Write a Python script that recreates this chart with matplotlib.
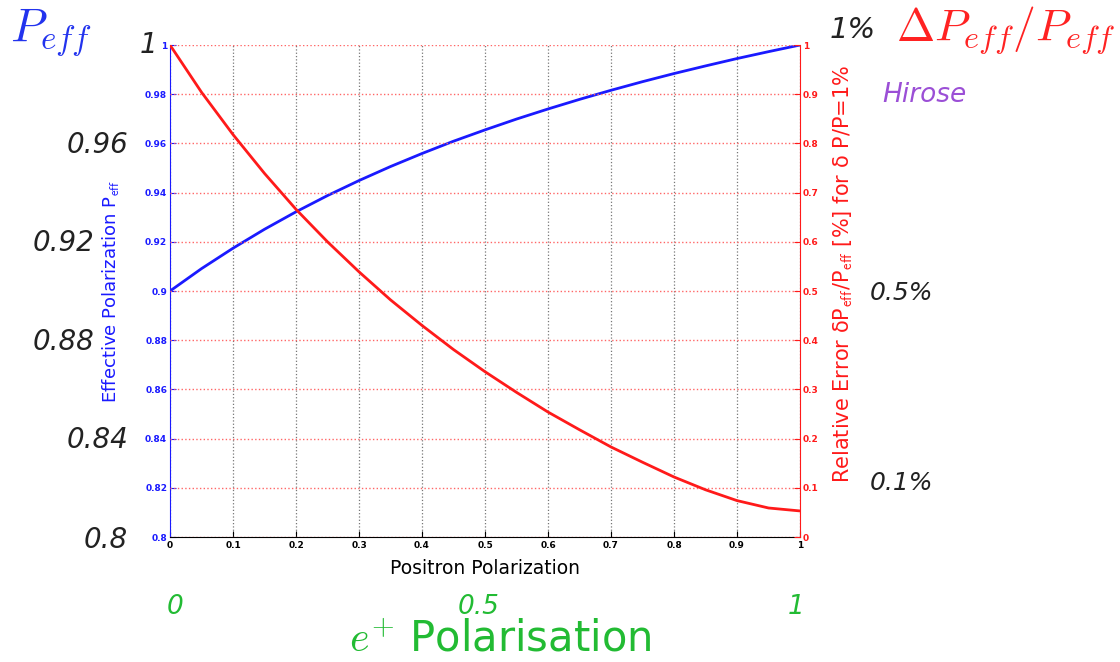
import matplotlib.pyplot as plt

plt.rcParams['mathtext.fontset'] = 'cm'

# positron polarization and the two curves
pos_pol = [0.0, 0.05, 0.1, 0.15, 0.2, 0.25, 0.3, 0.35, 0.4, 0.45, 0.5,
           0.55, 0.6, 0.65, 0.7, 0.75, 0.8, 0.85, 0.9, 0.95, 1.0]
p_eff = [0.900, 0.9091, 0.9174, 0.9251, 0.9322, 0.9388, 0.9449, 0.9506, 0.9559, 0.9609, 0.9655,
         0.9699, 0.9740, 0.9779, 0.9816, 0.9851, 0.9884, 0.9915, 0.9945, 0.9973, 1.000]
rel_err = [1.000, 0.904, 0.818, 0.739, 0.666, 0.600, 0.539, 0.482, 0.430, 0.381, 0.336,
           0.294, 0.254, 0.218, 0.183, 0.152, 0.122, 0.096, 0.074, 0.059, 0.053]

x_ticks = [0, 0.1, 0.2, 0.3, 0.4, 0.5, 0.6, 0.7, 0.8, 0.9, 1]
left_ticks = [0.8, 0.82, 0.84, 0.86, 0.88, 0.9, 0.92, 0.94, 0.96, 0.98, 1]
right_ticks = [0, 0.1, 0.2, 0.3, 0.4, 0.5, 0.6, 0.7, 0.8, 0.9, 1]

blue = '#1a1aff'
red = '#ff1a1a'

fig = plt.figure(figsize=(11.2, 6.62), dpi=100)
ax = fig.add_axes([0.1518, 0.1888, 0.5625, 0.7432])
ax2 = ax.twinx()

ax.plot(pos_pol, p_eff, color=blue, lw=2)
ax2.plot(pos_pol, rel_err, color=red, lw=2)

ax.set_xlim(0, 1)
ax.set_ylim(0.8, 1)
ax2.set_ylim(0, 1)
ax.set_xticks(x_ticks)
ax.set_xticklabels([('%g' % v) for v in x_ticks], fontsize=6.5, fontweight='semibold')
ax.set_yticks(left_ticks)
ax.set_yticklabels([('%g' % v) for v in left_ticks], fontsize=6.5, color=blue, fontweight='semibold')
ax2.set_yticks(right_ticks)
ax2.set_yticklabels([('%g' % v) for v in right_ticks], fontsize=6.5, color=red, fontweight='semibold')

ax.tick_params(axis='x', direction='in', length=4, pad=3)
ax.tick_params(axis='y', direction='in', length=4, colors=blue, pad=2)
ax2.tick_params(axis='y', direction='in', length=4, colors=red, pad=2)

for a in (ax, ax2):
    a.spines['top'].set_visible(False)
ax.spines['left'].set_color(blue)
ax.spines['right'].set_visible(False)
ax2.spines['left'].set_visible(False)
ax2.spines['right'].set_color(red)
ax2.spines['bottom'].set_visible(False)

ax.grid(axis='x', color='#777777', linestyle=':', lw=0.9)
ax2.grid(axis='y', color='#ff6666', linestyle=':', lw=1.0)

ax.set_xlabel('Positron Polarization', fontsize=13.5)
ax.xaxis.set_label_coords(0.5, -0.045)
ax.set_ylabel('Effective Polarization P$_{\\mathsf{eff}}$', fontsize=13, color=blue)
ax.yaxis.set_label_coords(-0.077, 0.5)
ax2.set_ylabel('Relative Error \u03b4P$_{\\mathsf{eff}}$/P$_{\\mathsf{eff}}$ [%] for \u03b4 P/P=1%',
               fontsize=15, color=red)
ax2.yaxis.set_label_coords(1.05, 0.535)

# big overlay annotations
W, H = 1120, 662
def ftext(x, y, s, **kw):
    fig.text(x / W, 1 - y / H, s, **kw)

ftext(10, 33, '$P_{eff}$', fontsize=34, color='#2233ee', va='center')
dark = '#222222'
ftext(157, 45, '1', fontsize=20, style='italic', color=dark, ha='right', va='center')
for lab, xx, yy in [('0.96', 128, 145), ('0.92', 94, 243), ('0.88', 94, 342),
                    ('0.84', 128, 440), ('0.8', 128, 540)]:
    ftext(xx, yy, lab, fontsize=20, style='italic', color=dark, ha='right', va='center')

ftext(830, 30, '1%', fontsize=21, style='italic', color=dark, va='center')
ftext(896, 30, '$\\Delta P_{eff}/P_{eff}$', fontsize=33, color='#ff2222', va='center')
ftext(882, 95, 'Hirose', fontsize=19, style='italic', color='#9b4fd6', va='center')
ftext(870, 293, '0.5%', fontsize=18, style='italic', color=dark, va='center')
ftext(870, 483, '0.1%', fontsize=18, style='italic', color=dark, va='center')

green = '#22bb33'
ftext(175, 607, '0', fontsize=19, style='italic', color=green, ha='center', va='center')
ftext(479, 607, '0.5', fontsize=19, style='italic', color=green, ha='center', va='center')
ftext(796, 607, '1', fontsize=19, style='italic', color=green, ha='center', va='center')
ftext(500, 640, '$e^{+}$ Polarisation', fontsize=30, color=green, ha='center', va='center')

fig.savefig('out.png', dpi=100)
